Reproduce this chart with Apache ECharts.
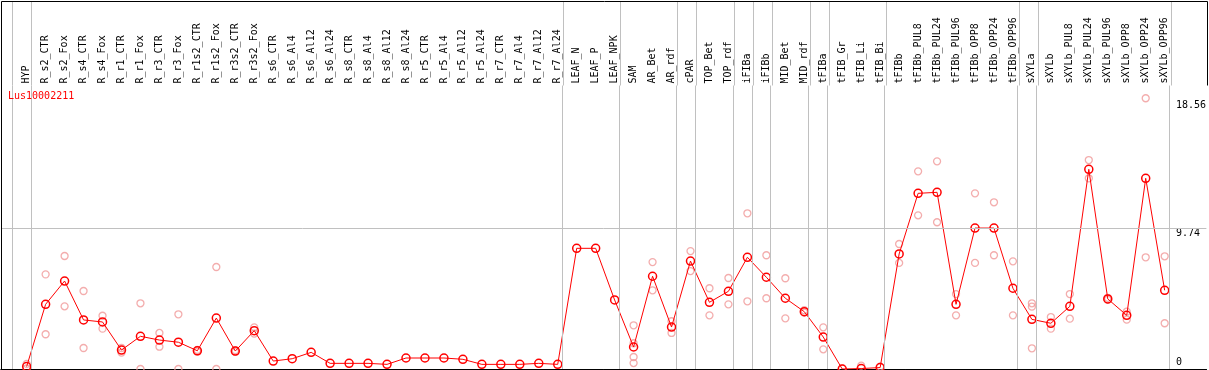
<!DOCTYPE html>
<html>
<head>
<meta charset="utf-8">
<script src="https://cdn.jsdelivr.net/npm/echarts@6/dist/echarts.min.js"></script>
<style>
html,body{margin:0;padding:0;background:#fff;}
#chart{width:1209px;height:370px;}
</style>
</head>
<body>
<div id="chart"></div>
<script>
const geneName = 'Lus10002211';
const categories = [
 'HYP','R_s2_CTR','R_s2_Fox','R_s4_CTR','R_s4_Fox','R_r1_CTR','R_r1_Fox','R_r3_CTR','R_r3_Fox',
 'R_r1s2_CTR','R_r1s2_Fox','R_r3s2_CTR','R_r3s2_Fox','R_s6_CTR','R_s6_Al4','R_s6_Al12','R_s6_Al24',
 'R_s8_CTR','R_s8_Al4','R_s8_Al12','R_s8_Al24','R_r5_CTR','R_r5_Al4','R_r5_Al12','R_r5_Al24',
 'R_r7_CTR','R_r7_Al4','R_r7_Al12','R_r7_Al24','LEAF_N','LEAF_P','LEAF_NPK','SAM','AR_Bet','AR_rdf',
 'cPAR','TOP_Bet','TOP_rdf','iFIBa','iFIBb','MID_Bet','MID_rdf','tFIBa','tFIB_Gr','tFIB_Li','tFIB_Bi',
 'tFIBb','tFIBb_PUL8','tFIBb_PUL24','tFIBb_PUL96','tFIBb_OPP8','tFIBb_OPP24','tFIBb_OPP96',
 'sXYLa','sXYLb','sXYLb_PUL8','sXYLb_PUL24','sXYLb_PUL96','sXYLb_OPP8','sXYLb_OPP24','sXYLb_OPP96'
];
const groupSizes = [1, 28, 3, 3, 1, 2, 1, 1, 2, 1, 3, 7, 1, 7];
const meanValues = [
 0.17, 4.47, 6.08, 3.39, 3.25, 1.31, 2.26, 2.00, 1.85, 1.26, 3.52, 1.24, 2.65,
 0.55, 0.71, 1.15, 0.39, 0.39, 0.39, 0.32, 0.76, 0.76, 0.76, 0.67, 0.32, 0.32, 0.32, 0.39, 0.32,
 8.34, 8.34, 4.77, 1.52, 6.41, 2.90, 7.46, 4.61, 5.37, 7.72, 6.34, 4.89, 3.96, 2.21,
 0.00, 0.03, 0.10, 7.95, 12.14, 12.21, 4.47, 9.74, 9.74, 5.58,
 3.43, 3.16, 4.33, 13.80, 4.84, 3.71, 13.18, 5.44
];
const replicateValues = [
 [0.35, 0.05], [6.54, 2.40], [7.81, 4.33], [5.39, 1.45], [3.68, 2.79], [1.13, 1.45], [4.54, 0],
 [2.49, 1.54], [3.78, 0], [1.20, 1.32], [7.05, 0], [1.18, 1.30], [2.88, 2.45],
 [], [], [], [], [], [], [], [], [], [], [], [], [], [], [], [],
 [], [], [], [3.02, 1.78, 0.83, 0.41], [7.39, 5.44], [3.30, 2.49], [8.15, 6.77], [5.58, 3.71],
 [6.29, 4.47], [10.76, 4.68], [7.86, 4.89], [6.27, 3.50], [4.06, 3.90], [2.88, 1.36],
 [0.05], [0.23], [0.16], [8.64, 7.33], [13.66, 10.62], [14.35, 10.14], [5.18, 3.71],
 [12.14, 7.33], [11.52, 7.86], [7.44, 3.71],
 [4.54, 4.31, 1.43], [3.59, 2.79], [5.18, 3.48], [14.44, 13.18], [4.92, 4.78], [3.96, 3.41],
 [18.71, 7.72], [7.79, 3.16]
];
const yTicks = [0, 9.74, 18.56];
const gridValues = [9.74];

// layout
const FONT = 'DejaVu Sans Mono';
const firstX = 26.7, step = 19, leftPx = 1, rightPx = 1208.5, topPx = 85.5, bottomPx = 369;
const xMin = (leftPx - firstX) / step;
const xMax = (rightPx - firstX) / step;
const pxPerUnit = 14.47;
const yMax = (bottomPx - topPx) / pxPerUnit;
const labelAxisX = 1170;

const sepPositions = [];
let end = -1;
sepPositions.push(end + 0.23);
groupSizes.forEach(s => { end += s; sepPositions.push(end + 0.23); });

const meanData = meanValues.map((v, i) => [i, v]);
const repData = [];
replicateValues.forEach((arr, i) => arr.forEach(v => repData.push([i, v])));

const chart = echarts.init(document.getElementById('chart'), null, {renderer: 'canvas'});
const gray = '#c0c0c0';
chart.setOption({
  animation: false,
  backgroundColor: '#fff',
  title: {
    text: geneName, left: 8, top: 91, padding: 0,
    textStyle: {color: '#ff0000', fontSize: 10, fontFamily: FONT, fontWeight: 'normal'}
  },
  graphic: [{
    type: 'polyline', silent: true, z: 100,
    shape: {points: [[1207.5, topPx], [1207.5, 1.5], [1.5, 1.5], [1.5, bottomPx]]},
    style: {stroke: '#000', lineWidth: 1, fill: null}
  }],
  grid: [
    {left: leftPx, width: rightPx - leftPx, top: 1, height: topPx - 1},
    {left: leftPx, width: rightPx - leftPx, top: topPx, height: bottomPx - topPx}
  ],
  xAxis: [
    {gridIndex: 1, type: 'value', position: 'top', min: xMin, max: xMax,
     axisLine: {show: true, lineStyle: {color: '#000', width: 1}},
     axisTick: {show: false}, splitLine: {show: false},
     axisLabel: {customValues: categories.map((_, i) => i), rotate: 90, margin: 2,
       formatter: v => categories[Math.round(v)] || '', fontFamily: FONT, fontSize: 10, color: '#000'}},
    {gridIndex: 1, type: 'value', position: 'bottom', min: xMin, max: xMax,
     axisLine: {show: true, lineStyle: {color: '#000', width: 1}},
     axisTick: {show: false}, splitLine: {show: false}, axisLabel: {show: false}},
    {gridIndex: 0, type: 'value', min: xMin, max: xMax, show: false}
  ],
  yAxis: [
    {gridIndex: 1, type: 'value', min: 0, max: yMax, position: 'right', offset: labelAxisX - rightPx,
     axisLine: {show: false}, axisTick: {show: false}, splitLine: {show: false},
     axisLabel: {customValues: yTicks, margin: 8, color: '#000', fontFamily: FONT, fontSize: 10,
       formatter: v => (v === 0 ? '{lo|' + v + '}' : '{hi|' + v + '}'),
       rich: {
         hi: {padding: [10, 0, 0, 0], fontFamily: FONT, fontSize: 10, color: '#000'},
         lo: {padding: [0, 0, 14, 0], fontFamily: FONT, fontSize: 10, color: '#000'}
       }}},
    {gridIndex: 0, type: 'value', min: 0, max: 1, show: false}
  ],
  series: [
    {type: 'line', xAxisIndex: 0, yAxisIndex: 0, data: [], z: 1, silent: true,
     markLine: {silent: true, symbol: ['none', 'none'], label: {show: false},
       lineStyle: {color: gray, type: 'solid', width: 1},
       data: sepPositions.map(x => ({xAxis: x})).concat(gridValues.map(v => ({yAxis: v})))}},
    {type: 'line', xAxisIndex: 2, yAxisIndex: 1, data: [], z: 1, silent: true,
     markLine: {silent: true, symbol: ['none', 'none'], label: {show: false},
       lineStyle: {color: gray, type: 'solid', width: 1},
       data: sepPositions.map(x => ({xAxis: x}))}},
    {type: 'scatter', xAxisIndex: 0, yAxisIndex: 0, data: repData, z: 2,
     symbol: 'circle', symbolSize: 7,
     itemStyle: {color: 'rgba(255,255,255,0)', borderColor: '#f09999', borderWidth: 1.3}},
    {type: 'line', xAxisIndex: 0, yAxisIndex: 0, data: meanData, z: 3,
     symbol: 'circle', symbolSize: 8, showAllSymbol: true,
     lineStyle: {color: '#ff0000', width: 1},
     itemStyle: {color: 'rgba(255,255,255,0)', borderColor: '#ff0000', borderWidth: 1.5}}
  ]
});
</script>
</body>
</html>
